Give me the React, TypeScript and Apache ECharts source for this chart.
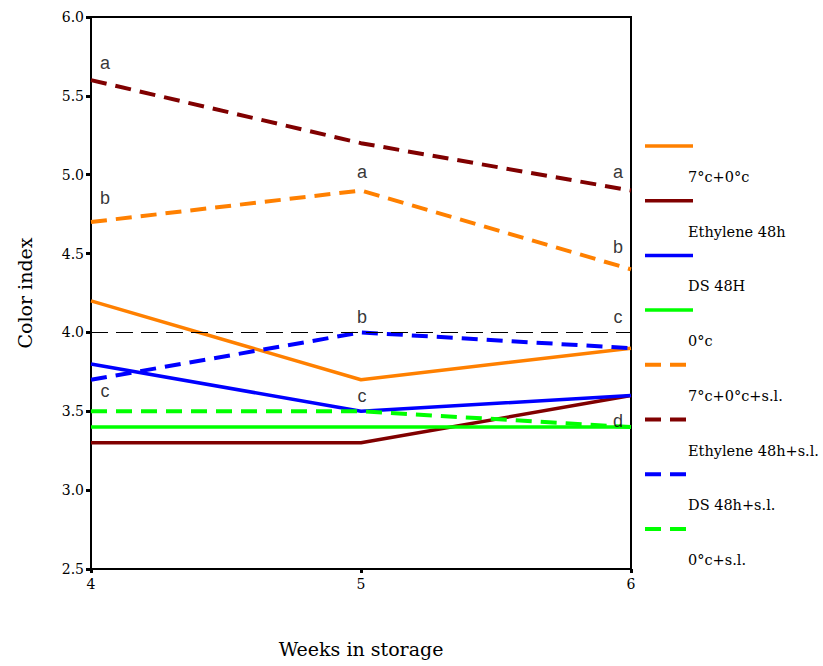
import React, { useEffect, useRef } from "react";
import * as echarts from "echarts";

const weeks = [4, 5, 6];
const yTicks = ["2.5", "3.0", "3.5", "4.0", "4.5", "5.0", "5.5", "6.0"];
const seriesNames = [
  "7°c+0°c",
  "Ethylene 48h",
  "DS 48H",
  "0°c",
  "7°c+0°c+s.l.",
  "Ethylene 48h+s.l.",
  "DS 48h+s.l.",
  "0°c+s.l.",
];
const seriesColors = ["#FF8000", "#800000", "#0000FF", "#00FF00", "#FF8000", "#800000", "#0000FF", "#00FF00"];
const seriesDashed = [false, false, false, false, true, true, true, true];
const v_7c0c = [4.2, 3.7, 3.9];
const v_eth = [3.3, 3.3, 3.6];
const v_ds = [3.8, 3.5, 3.6];
const v_0c = [3.4, 3.4, 3.4];
const v_7c0c_sl = [4.7, 4.9, 4.4];
const v_eth_sl = [5.6, 5.2, 4.9];
const v_ds_sl = [3.7, 4.0, 3.9];
const v_0c_sl = [3.5, 3.5, 3.4];
const seriesValues = [v_7c0c, v_eth, v_ds, v_0c, v_7c0c_sl, v_eth_sl, v_ds_sl, v_0c_sl];
const refLine = 4.0;
// significance letters: [week, value position, letter]
const letters: [number, number, string][] = [
  [4, 5.71, "a"],
  [4, 4.85, "b"],
  [4, 3.63, "c"],
  [5, 5.02, "a"],
  [5, 4.1, "b"],
  [5, 3.6, "c"],
  [6, 5.02, "a"],
  [6, 4.54, "b"],
  [6, 4.1, "c"],
  [6, 3.44, "d"],
];

const SERIF = "'DejaVu Serif', 'Liberation Serif', serif";
const SANS = "'Liberation Sans', Arial, sans-serif";

export default function App() {
  const ref = useRef<HTMLDivElement>(null);
  useEffect(() => {
    if (!ref.current) return;
    const chart = echarts.init(ref.current, undefined, { renderer: "svg" });
    const lineSeries: any[] = seriesNames.map((name, i) => ({
      name,
      type: "line",
      data: weeks.map((w, j) => [w, seriesValues[i][j]]),
      symbol: "none",
      lineStyle: {
        color: seriesColors[i],
        width: seriesDashed[i] ? 4 : 3.5,
        type: seriesDashed[i] ? [16, 9] : "solid",
      },
      z: 3,
    }));
    lineSeries.push({
      name: "ref",
      type: "line",
      data: [],
      markLine: {
        silent: true,
        symbol: "none",
        label: { show: false },
        lineStyle: { color: "#000", width: 1.2, type: [17, 8] },
        data: [{ yAxis: refLine }],
      },
      z: 2,
    });
    lineSeries.push({
      name: "letters",
      type: "scatter",
      symbolSize: 0,
      itemStyle: { color: "#000" },
      data: letters.map(([w, v, t]) => ({
        value: [w, v],
        label: {
          show: true,
          position: "inside",
          formatter: t,
          offset: [w === 4 ? 14 : w === 6 ? -13 : 1, 0],
          fontFamily: SANS,
          fontSize: 18,
          color: "#000",
          textBorderWidth: 0,
        },
      })),
      z: 5,
    });

    const graphics: any[] = [];
    seriesNames.forEach((name, i) => {
      const y = 146 + i * 54.7;
      graphics.push({
        type: "line",
        shape: { x1: 645, y1: y, x2: 693, y2: y },
        style: seriesDashed[i]
          ? { stroke: seriesColors[i], lineWidth: 4, lineDash: [16, 9] }
          : { stroke: seriesColors[i], lineWidth: 3.5 },
      });
      graphics.push({
        type: "text",
        x: 688,
        y: y + 31,
        style: {
          text: name,
          fontFamily: SERIF,
          fontSize: 14.5,
          fill: "#000",
          verticalAlign: "middle",
          align: "left",
        },
      });
    });

    chart.setOption({
      animation: false,
      backgroundColor: "#fff",
      grid: {
        left: 91,
        right: 192,
        top: 17,
        bottom: 97,
        show: true,
        borderColor: "#000",
        borderWidth: 2,
        backgroundColor: "transparent",
        outerBoundsMode: "none",
        containLabel: false,
      },
      xAxis: {
        type: "value",
        min: 4,
        max: 6,
        interval: 1,
        name: "Weeks in storage",
        nameLocation: "middle",
        nameGap: 70,
        nameTextStyle: { fontFamily: SERIF, fontSize: 19, color: "#000" },
        axisLine: { lineStyle: { color: "#000", width: 2 } },
        axisTick: { show: true, length: 4, lineStyle: { color: "#000", width: 3 } },
        axisLabel: { fontFamily: SERIF, fontSize: 14, color: "#000", margin: 8 },
        splitLine: { show: false },
      },
      yAxis: {
        type: "value",
        min: 2.5,
        max: 6,
        interval: 0.5,
        name: "Color index",
        nameLocation: "middle",
        nameGap: 57,
        nameTextStyle: { fontFamily: SERIF, fontSize: 19, color: "#000" },
        axisLine: { lineStyle: { color: "#000", width: 2 } },
        axisTick: { show: true, length: 5, lineStyle: { color: "#000", width: 3 } },
        axisLabel: {
          fontFamily: SERIF,
          fontSize: 14,
          color: "#000",
          margin: 7,
          formatter: (v: number) => yTicks[Math.round((v - 2.5) / 0.5)] ?? v.toFixed(1),
        },
        splitLine: { show: false },
      },
      series: lineSeries,
      graphic: graphics,
    });
    return () => chart.dispose();
  }, []);
  return (
    <div
      ref={ref}
      style={{ width: 823, height: 666, position: "absolute", left: 0, top: 0 }}
    />
  );
}
